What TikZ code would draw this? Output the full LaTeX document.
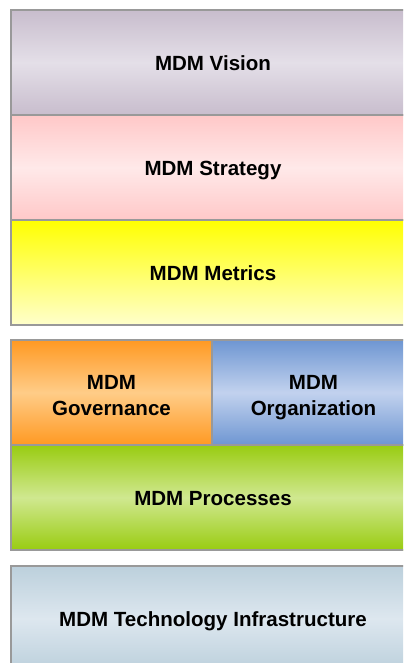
\documentclass[tikz,border=0pt]{standalone}
\usepackage{fontspec}
\setmainfont{Liberation Sans}
\usepackage{tikz}

\definecolor{visionEdge}{HTML}{C8BDCD}
\definecolor{visionMid}{HTML}{E4DFE8}
\definecolor{strategyEdge}{HTML}{FFC8C8}
\definecolor{strategyMid}{HTML}{FFE9E9}
\definecolor{metricsTop}{HTML}{FFFF00}
\definecolor{metricsBot}{HTML}{FFFFCC}
\definecolor{govEdge}{HTML}{FF9922}
\definecolor{govMid}{HTML}{FFCC88}
\definecolor{orgEdge}{HTML}{6E96D2}
\definecolor{orgMid}{HTML}{C2D2EE}
\definecolor{procEdge}{HTML}{99CC11}
\definecolor{procMid}{HTML}{D0E890}
\definecolor{infraEdge}{HTML}{BCD0DC}
\definecolor{infraMid}{HTML}{DDE7EF}
\definecolor{frameGray}{HTML}{999999}

\begin{document}
\begin{tikzpicture}[x=0.025cm,y=-0.025cm,
	layer/.style={draw=frameGray,line width=1.4pt,minimum width=10.1cm,
		minimum height=2.625cm,inner sep=0pt,align=center,
		text height=12pt,text depth=0pt,
		font=\fontsize{14.6}{18.5}\selectfont\bfseries},
	halflayer/.style={layer,text height=32.6pt,text depth=0pt}]
	\useasboundingbox (0,0) rectangle (403,663);
	\clip (0,0) rectangle (403,663);
	
	% Top stack
	\node[layer,top color=visionEdge,bottom color=visionEdge,middle color=visionMid] (vision) at (213,62.5) {MDM Vision};
	\node[layer,top color=strategyEdge,bottom color=strategyEdge,middle color=strategyMid] (strategy) at (213,167.5) {MDM Strategy};
	\node[layer,top color=metricsTop,bottom color=metricsBot] (metrics) at (213,272.5) {MDM Metrics};
	
	% Middle stack
	\node[halflayer,minimum width=5.025cm,top color=govEdge,bottom color=govEdge,middle color=govMid] (governance) at (111.5,392.5) {MDM\\Governance};
	\node[halflayer,minimum width=5.075cm,top color=orgEdge,bottom color=orgEdge,middle color=orgMid] (organization) at (313.5,392.5) {MDM\\Organization};
	\node[layer,top color=procEdge,bottom color=procEdge,middle color=procMid] (processes) at (213,497.5) {MDM Processes};
	
	% Bottom
	\node[layer,top color=infraEdge,bottom color=infraEdge,middle color=infraMid] (infra) at (213,618.5) {MDM Technology Infrastructure};
\end{tikzpicture}
\end{document}
